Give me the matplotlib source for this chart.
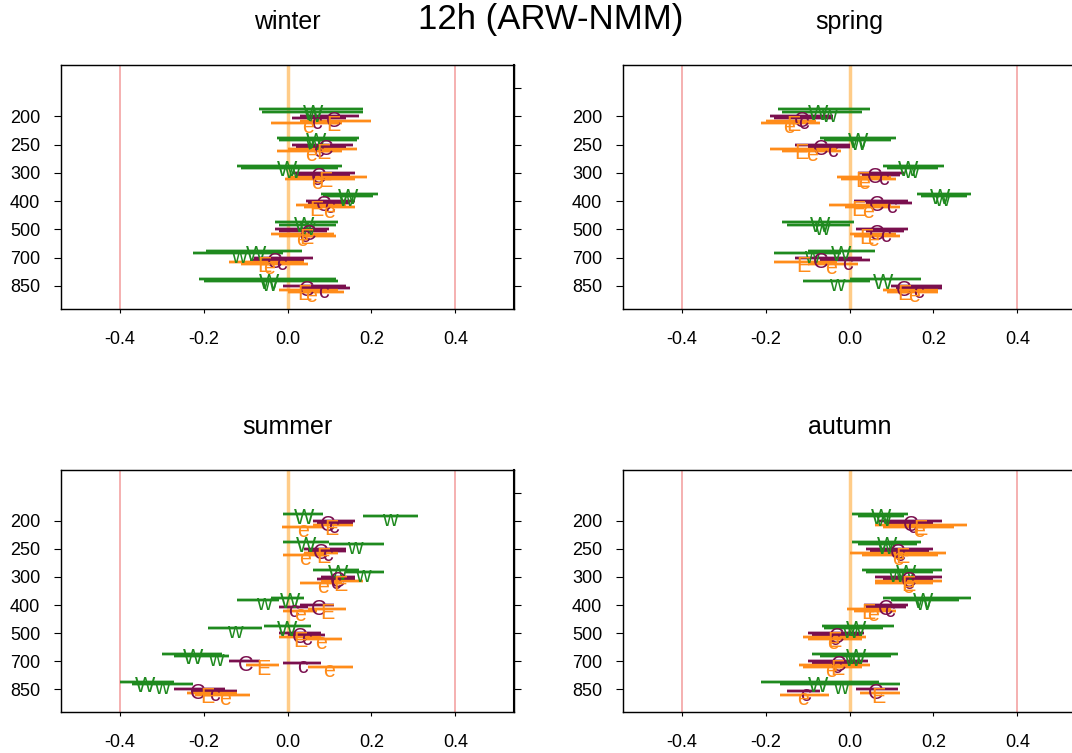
import matplotlib
matplotlib.use("Agg")
import matplotlib.pyplot as plt

plt.rcParams['font.family'] = ['Liberation Sans', 'DejaVu Sans']
plt.rcParams['axes.unicode_minus'] = False

levels = ['200', '250', '300', '400', '500', '700', '850']
xticks = [-0.4, -0.2, 0.0, 0.2, 0.4]
xtick_labels = ['-0.4', '-0.2', '0.0', '0.2', '0.4']
series = ['W', 'w', 'C', 'c', 'E', 'e']
series_colors = ['#1f8a1f', '#1f8a1f', '#7a0f4e', '#7a0f4e', '#ff8c1a', '#ff8c1a']
series_offsets = [-0.25, -0.17, 0.0, 0.07, 0.15, 0.22]

# rows: W, w, C, c, E, e ; columns: 200 ... 850 hPa
winter_mean = [
    [0.06, 0.067, 0.0, 0.145, 0.04, -0.075, -0.045],
    [0.06, 0.06, 0.01, 0.14, 0.045, -0.115, -0.045],
    [0.11, 0.09, 0.075, 0.085, 0.05, -0.03, 0.045],
    [0.07, 0.075, 0.07, 0.1, 0.04, -0.015, 0.085],
    [0.11, 0.085, 0.09, 0.07, 0.045, -0.055, 0.04],
    [0.05, 0.055, 0.07, 0.1, 0.035, -0.045, 0.055],
]
winter_lo = [
    [-0.067, -0.024, -0.12, 0.08, -0.03, -0.195, -0.21],
    [-0.06, -0.02, -0.11, 0.085, -0.02, -0.225, -0.2],
    [0.03, 0.01, 0.01, 0.045, -0.03, -0.08, -0.01],
    [0.01, 0.02, 0.02, 0.05, -0.02, -0.09, 0.03],
    [0.03, 0.0, 0.0, 0.02, -0.04, -0.14, -0.02],
    [-0.04, -0.025, -0.005, 0.04, -0.02, -0.11, 0.0],
]
winter_hi = [
    [0.18, 0.17, 0.13, 0.215, 0.12, 0.035, 0.115],
    [0.18, 0.165, 0.12, 0.205, 0.115, -0.01, 0.12],
    [0.17, 0.155, 0.16, 0.16, 0.1, 0.06, 0.14],
    [0.14, 0.14, 0.15, 0.15, 0.095, 0.04, 0.15],
    [0.2, 0.165, 0.19, 0.14, 0.11, 0.04, 0.12],
    [0.13, 0.13, 0.16, 0.16, 0.115, 0.05, 0.135],
]

spring_mean = [
    [-0.075, 0.02, 0.14, 0.215, -0.07, -0.02, 0.08],
    [-0.05, 0.02, 0.145, 0.22, -0.065, -0.09, -0.03],
    [-0.115, -0.07, 0.06, 0.065, 0.065, -0.07, 0.13],
    [-0.11, -0.04, 0.08, 0.1, 0.085, -0.005, 0.165],
    [-0.135, -0.115, 0.03, 0.02, 0.04, -0.11, 0.13],
    [-0.145, -0.09, 0.035, 0.045, 0.055, -0.045, 0.155],
]
spring_lo = [
    [-0.17, -0.07, 0.08, 0.16, -0.16, -0.1, 0.0],
    [-0.16, -0.06, 0.09, 0.17, -0.15, -0.18, -0.11],
    [-0.19, -0.13, 0.02, 0.01, 0.015, -0.13, 0.1],
    [-0.18, -0.1, 0.03, 0.04, 0.04, -0.07, 0.11],
    [-0.2, -0.19, -0.03, -0.05, 0.0, -0.18, 0.08],
    [-0.21, -0.16, -0.02, -0.01, 0.01, -0.1, 0.09],
]
spring_hi = [
    [0.05, 0.11, 0.225, 0.29, 0.01, 0.06, 0.17],
    [0.03, 0.1, 0.21, 0.28, 0.0, -0.02, 0.05],
    [-0.04, 0.0, 0.13, 0.14, 0.14, 0.03, 0.22],
    [-0.04, 0.0, 0.12, 0.15, 0.13, 0.05, 0.22],
    [-0.08, -0.03, 0.1, 0.1, 0.11, -0.03, 0.21],
    [-0.07, -0.02, 0.11, 0.12, 0.12, 0.02, 0.21],
]

summer_mean = [
    [0.04, 0.045, 0.12, 0.005, 0.0, -0.225, -0.34],
    [0.245, 0.16, 0.18, -0.057, -0.125, -0.17, -0.3],
    [0.095, 0.08, 0.12, 0.074, 0.03, -0.1, -0.215],
    [0.11, 0.095, 0.115, 0.015, 0.045, 0.035, -0.175],
    [0.105, 0.085, 0.125, 0.095, 0.03, -0.057, -0.19],
    [0.036, 0.043, 0.085, 0.03, 0.08, 0.098, -0.15],
]
summer_lo = [
    [-0.01, -0.01, 0.06, -0.04, -0.055, -0.3, -0.4],
    [0.18, 0.1, 0.14, -0.12, -0.19, -0.27, -0.37],
    [0.06, 0.04, 0.08, 0.03, -0.02, -0.14, -0.27],
    [0.07, 0.05, 0.07, -0.02, 0.0, -0.01, -0.23],
    [0.06, 0.04, 0.08, 0.05, -0.02, -0.1, -0.24],
    [-0.014, -0.01, 0.03, -0.01, 0.04, 0.05, -0.22],
]
summer_hi = [
    [0.085, 0.1, 0.17, 0.04, 0.055, -0.155, -0.27],
    [0.31, 0.23, 0.23, -0.02, -0.06, -0.14, -0.225],
    [0.16, 0.14, 0.16, 0.11, 0.08, -0.065, -0.15],
    [0.155, 0.14, 0.16, 0.05, 0.09, 0.08, -0.12],
    [0.155, 0.12, 0.18, 0.14, 0.08, -0.02, -0.12],
    [0.085, 0.09, 0.13, 0.07, 0.13, 0.155, -0.09],
]

autumn_mean = [
    [0.075, 0.09, 0.135, 0.175, 0.015, 0.015, -0.075],
    [0.08, 0.085, 0.11, 0.175, 0.0, 0.005, -0.02],
    [0.145, 0.115, 0.14, 0.085, -0.03, -0.025, 0.062],
    [0.15, 0.12, 0.14, 0.095, -0.035, -0.03, -0.105],
    [0.17, 0.125, 0.14, 0.045, -0.035, -0.03, 0.07],
    [0.165, 0.115, 0.14, 0.057, -0.04, -0.045, -0.11],
]
autumn_lo = [
    [0.005, 0.005, 0.03, 0.08, -0.065, -0.09, -0.21],
    [0.02, 0.02, 0.04, 0.1, -0.06, -0.07, -0.165],
    [0.07, 0.04, 0.06, 0.035, -0.1, -0.1, 0.015],
    [0.09, 0.05, 0.08, 0.04, -0.09, -0.09, -0.15],
    [0.06, 0.0, 0.06, -0.005, -0.11, -0.12, 0.025],
    [0.08, 0.03, 0.06, 0.01, -0.1, -0.11, -0.165],
]
autumn_hi = [
    [0.14, 0.17, 0.22, 0.29, 0.105, 0.115, 0.07],
    [0.13, 0.16, 0.2, 0.26, 0.08, 0.1, 0.12],
    [0.22, 0.2, 0.22, 0.14, 0.035, 0.045, 0.115],
    [0.2, 0.19, 0.2, 0.135, 0.03, 0.03, -0.07],
    [0.28, 0.23, 0.22, 0.1, 0.04, 0.05, 0.12],
    [0.25, 0.21, 0.2, 0.11, 0.03, 0.03, -0.05],
]

W, H = 1072, 753
fig = plt.figure(figsize=(W / 100, H / 100), dpi=100)


def panel(left, top, bottom, title, mean, lo, hi):
    ax = fig.add_axes([left / W, 1 - bottom / H, 453 / W, (bottom - top) / H])
    ax.set_xlim(-0.54, 0.54)
    ax.set_ylim(7.82, -0.82)
    for x in (-0.4, 0.4):
        ax.axvline(x, color='#f4a3a3', lw=1.2, zorder=1)
    ax.axvline(0.0, color='#ffcc88', lw=2.5, zorder=1)

    # one interval line per series and level, letter at the mean
    for k, name in enumerate(series):
        for i in range(len(levels)):
            y = i + 1 + series_offsets[k]
            ax.plot([lo[k][i], hi[k][i]], [y, y], color=series_colors[k],
                    lw=2.8, alpha=0.25, solid_capstyle='butt', zorder=2)
            ax.plot([lo[k][i], hi[k][i]], [y, y], color=series_colors[k],
                    lw=1.7, solid_capstyle='butt', zorder=3)
            ax.text(mean[k][i], y + 0.36, name, color=series_colors[k],
                    fontsize=15.5, ha='center', va='baseline', zorder=4)

    ax.set_xticks(xticks)
    ax.set_xticklabels(xtick_labels)
    ax.set_yticks(range(1, len(levels) + 1))
    ax.set_yticklabels(levels)
    ax.tick_params(axis='x', length=3, pad=13, labelsize=13)
    ax.tick_params(axis='y', length=5, pad=10, labelsize=13)
    for s in ax.spines.values():
        s.set_linewidth(1.0)
        s.set_color('#222222')

    ax2 = ax.twinx()
    ax2.set_ylim(7.82, -0.82)
    ax2.set_yticks(range(0, len(levels) + 1))
    ax2.set_yticklabels([])
    ax2.tick_params(axis='y', length=5)
    ax2.spines['right'].set_linewidth(1.5)

    fig.text((left + 226.5) / W, 1 - (top - 43) / H, title,
             ha='center', va='center', fontsize=18)


panel(61, 65, 309, 'winter', winter_mean, winter_lo, winter_hi)
panel(623, 65, 309, 'spring', spring_mean, spring_lo, spring_hi)
panel(61, 470, 712, 'summer', summer_mean, summer_lo, summer_hi)
panel(623, 470, 712, 'autumn', autumn_mean, autumn_lo, autumn_hi)

fig.text(551 / W, 1 - 20 / H, '12h (ARW-NMM)', ha='center', va='center',
         fontsize=25)

fig.savefig('out.png', dpi=100)
